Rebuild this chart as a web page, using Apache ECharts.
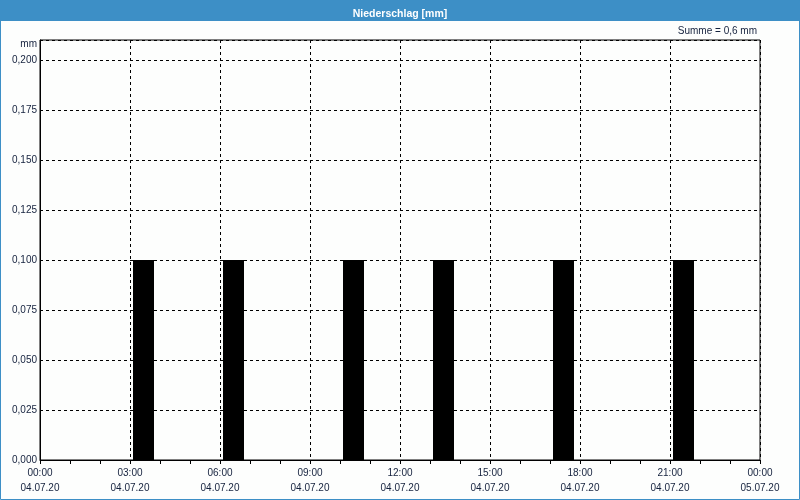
<!DOCTYPE html>
<html>
<head>
<meta charset="utf-8">
<script src="https://cdn.jsdelivr.net/npm/echarts@6/dist/echarts.min.js"></script>
<style>
html,body{margin:0;padding:0;background:#fdfefd;}
#chart{width:800px;height:500px;}
</style>
</head>
<body>
<div id="chart"></div>
<script>
// Hourly categories (hour start) and precipitation per hour [mm]
var hours = ['00','01','02','03','04','05','06','07','08','09','10','11','12','13','14','15','16','17','18','19','20','21','22','23'];
var precip = [0,0,0,0.1,0,0,0.1,0,0,0,0.1,0,0,0.1,0,0,0,0.1,0,0,0,0.1,0,0];
// Tick labels for the 3-hour ticks
var timeLabels = ['00:00','03:00','06:00','09:00','12:00','15:00','18:00','21:00','00:00'];
var dateLabels = ['04.07.20','04.07.20','04.07.20','04.07.20','04.07.20','04.07.20','04.07.20','04.07.20','05.07.20'];
var titleText = 'Niederschlag [mm]';
var sumText = 'Summe = 0,6 mm';
var unitText = 'mm';

var FONT = 'Liberation Sans';
var TXT = '#14213d';
var chart = echarts.init(document.getElementById('chart'), null, {renderer:'canvas'});
var option = {
  backgroundColor: '#fdfefd',
  animation: false,
  title: {
    text: titleText, left: 'center', top: 4,
    textStyle: {color: '#ffffff', fontFamily: FONT, fontSize: 10.5, fontWeight: 'bold'}
  },
  graphic: [
    {type: 'rect', z: -1, shape: {x: 0, y: 0, width: 800, height: 21}, style: {fill: '#3d8fc6'}},
    {type: 'rect', z: -1, shape: {x: 0.5, y: 0.5, width: 799, height: 499}, style: {fill: null, stroke: '#3d8fc6', lineWidth: 1}},
    {type: 'text', x: 757, y: 31, style: {text: sumText, align: 'right', verticalAlign: 'middle', fill: TXT, font: '10px "' + FONT + '"'}},
    {type: 'text', x: 37, y: 44, style: {text: unitText, align: 'right', verticalAlign: 'middle', fill: TXT, font: '10px "' + FONT + '"'}}
  ],
  grid: {left: 40, right: 40, top: 40, bottom: 40, show: true, borderColor: '#000', borderWidth: 1, backgroundColor: 'transparent'},
  xAxis: [
    {
      type: 'value', min: 0, max: 24, interval: 3,
      axisLine: {show: true, lineStyle: {color: '#000', width: 1}},
      axisTick: {show: true, length: 4, lineStyle: {color: '#000'}},
      minorTick: {show: true, splitNumber: 3, length: 4, lineStyle: {color: '#000'}},
      splitLine: {show: true, lineStyle: {color: '#000', type: [3, 3], width: 1}},
      axisLabel: {
        margin: 6, lineHeight: 15, color: TXT, fontFamily: FONT, fontSize: 10,
        showMinLabel: true, showMaxLabel: true,
        formatter: function (v) { var i = Math.round(v / 3); return timeLabels[i] + '\n' + dateLabels[i]; }
      }
    },
    {
      type: 'category', data: hours, show: false, boundaryGap: true, position: 'bottom'
    }
  ],
  yAxis: {
    type: 'value', min: 0, max: 0.21, interval: 0.025,
    axisLine: {show: true, lineStyle: {color: '#000', width: 1}},
    axisTick: {show: false},
    splitLine: {show: true, lineStyle: {color: '#000', type: [3, 3], width: 1}},
    axisLabel: {
      margin: 3, color: TXT, fontFamily: FONT, fontSize: 10,
      formatter: function (v) {
        var k = Math.round(v / 0.025);
        if (Math.abs(k * 0.025 - v) > 1e-6) return '';
        return (k * 0.025).toFixed(3).replace('.', ',');
      }
    }
  },
  series: [
    {type: 'bar', xAxisIndex: 1, data: precip, barWidth: 21, barGap: '0%', itemStyle: {color: '#000'}, silent: true},
    {type: 'bar', xAxisIndex: 1, data: hours.map(function(){return '-';}), barWidth: 3, barGap: '0%', itemStyle: {color: 'transparent'}, silent: true}
  ]
};
chart.setOption(option);
</script>
</body>
</html>
